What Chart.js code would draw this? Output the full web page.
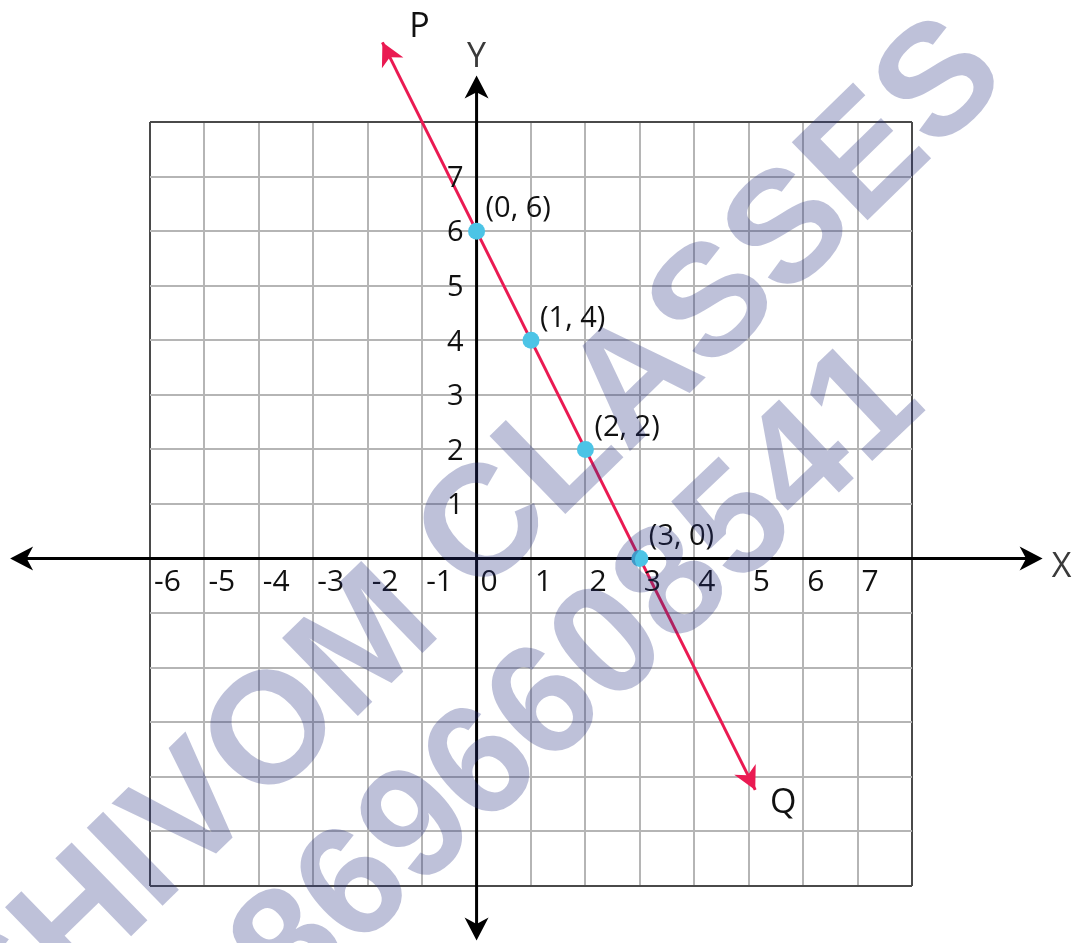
<!DOCTYPE html>
<html>
<head>
<meta charset="utf-8">
<script src="https://cdn.jsdelivr.net/npm/chart.js@4.4.1/dist/chart.umd.min.js"></script>
<style>
  html, body { margin: 0; padding: 0; background: #ffffff; }
  canvas { display: block; }
</style>
</head>
<body>
<canvas id="c" width="1078" height="943"></canvas>
<script>
// ---- data ----
const pointXs = [0, 1, 2, 3];
const pointYs = [6, 4, 2, 0];
const pointLabels = ['(0, 6)', '(1, 4)', '(2, 2)', '(3, 0)'];
const lineXs = [-1.73, 5.12];      // ends of line PQ (P, Q)
const lineYs = [9.46, -4.24];
const endLabels = ['P', 'Q'];
const xTickValues = [-6, -5, -4, -3, -2, -1, 0, 1, 2, 3, 4, 5, 6, 7];
const xTickLabels = ['-6', '-5', '-4', '-3', '-2', '-1', '0', '1', '2', '3', '4', '5', '6', '7'];
const yTickValues = [1, 2, 3, 4, 5, 6, 7];
const yTickLabels = ['1', '2', '3', '4', '5', '6', '7'];
const gridMin = -6, gridMax = 8;
const xAxisExtent = [-8.57, 10.4];
const yAxisExtent = [-7.0, 8.85];
const axisNames = ['X', 'Y'];
const watermarkLines = ['SHIVOM CLASSES', '8696608541'];

// ---- styles ----
const RED = '#ea1a52';
const CYAN = '#4cc4e6';

function arrowHead(ctx, tx, ty, fx, fy, len, hw, color) {
  const dx = fx - tx, dy = fy - ty;
  const L = Math.hypot(dx, dy);
  const ux = dx / L, uy = dy / L;
  const nx = -uy, ny = ux;
  ctx.save();
  ctx.fillStyle = color;
  ctx.beginPath();
  ctx.moveTo(tx, ty);
  ctx.lineTo(tx + ux * len + nx * hw, ty + uy * len + ny * hw);
  ctx.lineTo(tx + ux * len * 0.72, ty + uy * len * 0.72);
  ctx.lineTo(tx + ux * len - nx * hw, ty + uy * len - ny * hw);
  ctx.closePath();
  ctx.fill();
  ctx.restore();
}

const deco = {
  id: 'deco',
  beforeDatasetsDraw(chart) {
    const ctx = chart.ctx, xs = chart.scales.x, ys = chart.scales.y;
    const x0 = xs.getPixelForValue(0), y0 = ys.getPixelForValue(0);
    const xl = xs.getPixelForValue(xAxisExtent[0]), xr = xs.getPixelForValue(xAxisExtent[1]);
    const yb = ys.getPixelForValue(yAxisExtent[0]), yt = ys.getPixelForValue(yAxisExtent[1]);
    ctx.save();
    ctx.strokeStyle = '#000';
    ctx.lineWidth = 3;
    ctx.beginPath();
    ctx.moveTo(xl + 10, y0); ctx.lineTo(xr - 10, y0);
    ctx.moveTo(x0, yt + 10); ctx.lineTo(x0, yb - 10);
    ctx.stroke();
    ctx.restore();
    arrowHead(ctx, xl, y0, xr, y0, 23, 12, '#000');
    arrowHead(ctx, xr, y0, xl, y0, 23, 12, '#000');
    arrowHead(ctx, x0, yt, x0, yb, 23, 12, '#000');
    arrowHead(ctx, x0, yb, x0, yt, 23, 12, '#000');
  },
  afterDatasetsDraw(chart) {
    const ctx = chart.ctx, xs = chart.scales.x, ys = chart.scales.y;
    const x0 = xs.getPixelForValue(0), y0 = ys.getPixelForValue(0);
    // arrowheads on PQ
    const px = xs.getPixelForValue(lineXs[0]), py = ys.getPixelForValue(lineYs[0]);
    const qx = xs.getPixelForValue(lineXs[1]), qy = ys.getPixelForValue(lineYs[1]);
    arrowHead(ctx, px, py, qx, qy, 23, 12, RED);
    arrowHead(ctx, qx, qy, px, py, 23, 12, RED);

    ctx.save();
    // tick labels
    ctx.fillStyle = '#111';
    ctx.font = '30px "Open Sans"';
    ctx.textAlign = 'left';
    ctx.textBaseline = 'middle';
    xTickValues.forEach((v, i) => {
      ctx.fillText(xTickLabels[i], xs.getPixelForValue(v) + 4, y0 + 24);
    });
    ctx.font = '29px "Open Sans"';
    ctx.textAlign = 'right';
    yTickValues.forEach((v, i) => {
      ctx.fillText(yTickLabels[i], x0 - 13, ys.getPixelForValue(v) + 2);
    });
    // point labels
    ctx.font = '29px "Open Sans"';
    ctx.textAlign = 'left';
    pointXs.forEach((v, i) => {
      ctx.fillText(pointLabels[i], xs.getPixelForValue(v) + 9, ys.getPixelForValue(pointYs[i]) - 22);
    });
    // P, Q
    ctx.font = '34px "Open Sans"';
    ctx.textAlign = 'center';
    ctx.fillText(endLabels[0], px + 37, py - 15);
    ctx.fillText(endLabels[1], qx + 28, qy + 13);
    // X, Y
    ctx.fillStyle = '#3a3a3a';
    ctx.textAlign = 'left';
    ctx.fillText(axisNames[0], xs.getPixelForValue(xAxisExtent[1]) + 9, y0 + 9);
    ctx.textAlign = 'center';
    ctx.fillText(axisNames[1], x0, ys.getPixelForValue(yAxisExtent[1]) - 18);
    ctx.restore();
  },
  afterDraw(chart) {
    const ctx = chart.ctx;
    ctx.save();
    ctx.fillStyle = 'rgba(40,50,130,0.3)';
    ctx.font = 'bold 158px "Liberation Sans"';
    ctx.textAlign = 'center';
    ctx.textBaseline = 'middle';
    ctx.save();
    ctx.translate(474, 542);
    ctx.rotate(-44.2 * Math.PI / 180);
    ctx.fillText(watermarkLines[0], 0, 0);
    ctx.restore();
    ctx.save();
    ctx.translate(580, 678);
    ctx.rotate(-43.5 * Math.PI / 180);
    ctx.fillText(watermarkLines[1], 0, 0);
    ctx.restore();
    ctx.restore();
  }
};

function gridColor(c) {
  const v = c.tick && c.tick.value;
  return (v === gridMin || v === gridMax) ? '#4a4a4a' : '#b5b5b5';
}
function gridWidth(c) {
  return 2;
}

const scaleOpts = {
  type: 'linear',
  min: gridMin,
  max: gridMax,
  ticks: { display: false, stepSize: 1, maxTicksLimit: 100 },
  grid: { drawTicks: false, color: gridColor, lineWidth: gridWidth },
  border: { display: false },
  title: { display: false }
};

new Chart(document.getElementById('c'), {
  type: 'scatter',
  data: {
    datasets: [
      {
        data: lineXs.map((x, i) => ({ x: x, y: lineYs[i] })),
        showLine: true,
        borderColor: RED,
        borderWidth: 3,
        pointRadius: 0,
        clip: false,
        order: 2
      },
      {
        data: pointXs.map((x, i) => ({ x: x, y: pointYs[i] })),
        backgroundColor: CYAN,
        borderWidth: 0,
        pointRadius: 8.5,
        clip: false,
        order: 1
      }
    ]
  },
  options: {
    responsive: false,
    animation: false,
    devicePixelRatio: 1,
    layout: { padding: { left: 150, right: 166, top: 122, bottom: 57 } },
    plugins: { legend: { display: false }, tooltip: { enabled: false } },
    scales: { x: Object.assign({}, scaleOpts), y: Object.assign({}, scaleOpts) }
  },
  plugins: [deco]
});
</script>
</body>
</html>
